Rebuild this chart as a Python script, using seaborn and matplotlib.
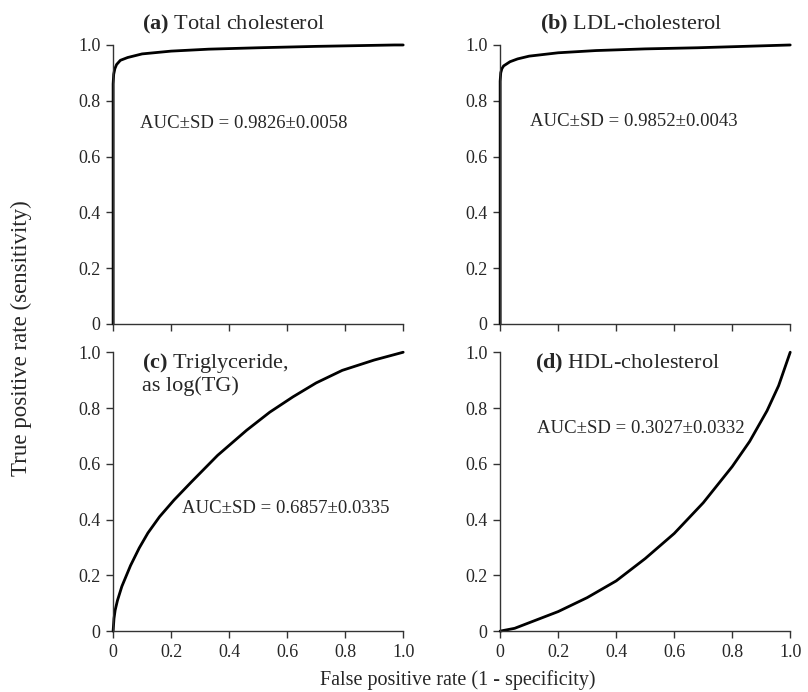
import numpy as np
import pandas as pd
import matplotlib
matplotlib.use("Agg")
import matplotlib.pyplot as plt
import seaborn as sns

sns.set_style("ticks")
plt.rcParams['font.family'] = ['Liberation Serif', 'DejaVu Serif']
plt.rcParams['mathtext.fontset'] = 'custom'
plt.rcParams['mathtext.rm'] = 'Liberation Serif'
plt.rcParams['mathtext.bf'] = 'Liberation Serif:bold'

# ROC points (false positive rate, true positive rate)
fpr_tc = [0, 0, 0.002, 0.006, 0.012, 0.025, 0.05, 0.10, 0.20, 0.33, 0.50, 0.70, 0.97, 1.0]
tpr_tc = [0, 0.86, 0.895, 0.915, 0.93, 0.945, 0.955, 0.968, 0.978, 0.985, 0.99, 0.995, 1.0, 1.0]

fpr_ldl = [0, 0, 0.002, 0.006, 0.012, 0.034, 0.06, 0.10, 0.20, 0.33, 0.50, 0.68, 1.0]
tpr_ldl = [0, 0.87, 0.9, 0.915, 0.925, 0.94, 0.95, 0.96, 0.972, 0.98, 0.986, 0.99, 1.0]

fpr_tg = [0, 0.003, 0.007, 0.015, 0.03, 0.06, 0.09, 0.12, 0.16, 0.21, 0.27, 0.36, 0.46, 0.54, 0.62, 0.70, 0.79, 0.90, 1.0]
tpr_tg = [0, 0.045, 0.075, 0.11, 0.16, 0.235, 0.298, 0.352, 0.41, 0.47, 0.535, 0.63, 0.72, 0.785, 0.84, 0.89, 0.935, 0.972, 1.0]

fpr_hdl = [0, 0.05, 0.10, 0.20, 0.30, 0.40, 0.50, 0.60, 0.70, 0.80, 0.86, 0.92, 0.96, 1.0]
tpr_hdl = [0, 0.01, 0.03, 0.07, 0.12, 0.18, 0.26, 0.35, 0.46, 0.59, 0.68, 0.79, 0.88, 1.0]

titles = [r"$\bf{(a)}$ Total cholesterol", r"$\bf{(b)}$ LDL-cholesterol",
          r"$\bf{(c)}$ Triglyceride," + "\nas log(TG)", r"$\bf{(d)}$ HDL-cholesterol"]
auc_text = ["AUC±SD = 0.9826±0.0058", "AUC±SD = 0.9852±0.0043",
            "AUC±SD = 0.6857±0.0335", "AUC±SD = 0.3027±0.0332"]
tick_vals = [0, 0.2, 0.4, 0.6, 0.8, 1.0]
tick_labels = ["0", "0.2", "0.4", "0.6", "0.8", "1.0"]

curves = [(fpr_tc, tpr_tc), (fpr_ldl, tpr_ldl), (fpr_tg, tpr_tg), (fpr_hdl, tpr_hdl)]

fig = plt.figure(figsize=(8.08, 6.92), dpi=100)
# axes boxes [left, bottom, width, height]
boxes = [[0.140, 0.532, 0.359, 0.403], [0.619, 0.532, 0.359, 0.403],
         [0.140, 0.088, 0.359, 0.403], [0.619, 0.088, 0.359, 0.403]]
# text spots in axes fraction
title_pos = [(0.10, 1.072), (0.138, 1.072), (0.10, 0.923), (0.12, 0.96)]
auc_pos = [(0.093, 0.72), (0.103, 0.724), (0.238, 0.441), (0.128, 0.728)]

for i, (fx, ty) in enumerate(curves):
    ax = fig.add_axes(boxes[i])
    d = pd.DataFrame({"fpr": fx, "tpr": ty})
    sns.lineplot(data=d, x="fpr", y="tpr", ax=ax, sort=False, estimator=None,
                 color="black", lw=2.0, clip_on=False)
    ax.set_xlim(0, 1)
    ax.set_ylim(0, 1)
    ax.set_xticks(tick_vals)
    ax.set_yticks(tick_vals)
    ax.set_yticklabels(tick_labels)
    if i < 2:
        ax.set_xticklabels([])
    else:
        ax.set_xticklabels(tick_labels)
    ax.set_xlabel("")
    ax.set_ylabel("")
    sns.despine(ax=ax)
    for s in ["left", "bottom"]:
        ax.spines[s].set_color("#333333")
        ax.spines[s].set_linewidth(1.0)
    ax.tick_params(direction="out", length=5, width=1.0, color="#333333",
                   labelsize=13, pad=4)
    tx, tyy = title_pos[i]
    ax.text(tx, tyy, titles[i], transform=ax.transAxes, ha="left", va="center",
            fontsize=16, linespacing=1.05)
    ax.text(auc_pos[i][0], auc_pos[i][1], auc_text[i], transform=ax.transAxes,
            ha="left", va="center", fontsize=13.5)

fig.text(0.027, 0.511, "True positive rate (sensitivity)", rotation=90,
         ha="center", va="center", fontsize=16.5)
fig.text(0.566, 0.017, "False positive rate (1 - specificity)",
         ha="center", va="center", fontsize=14.5)

fig.savefig("out.png", dpi=100)
